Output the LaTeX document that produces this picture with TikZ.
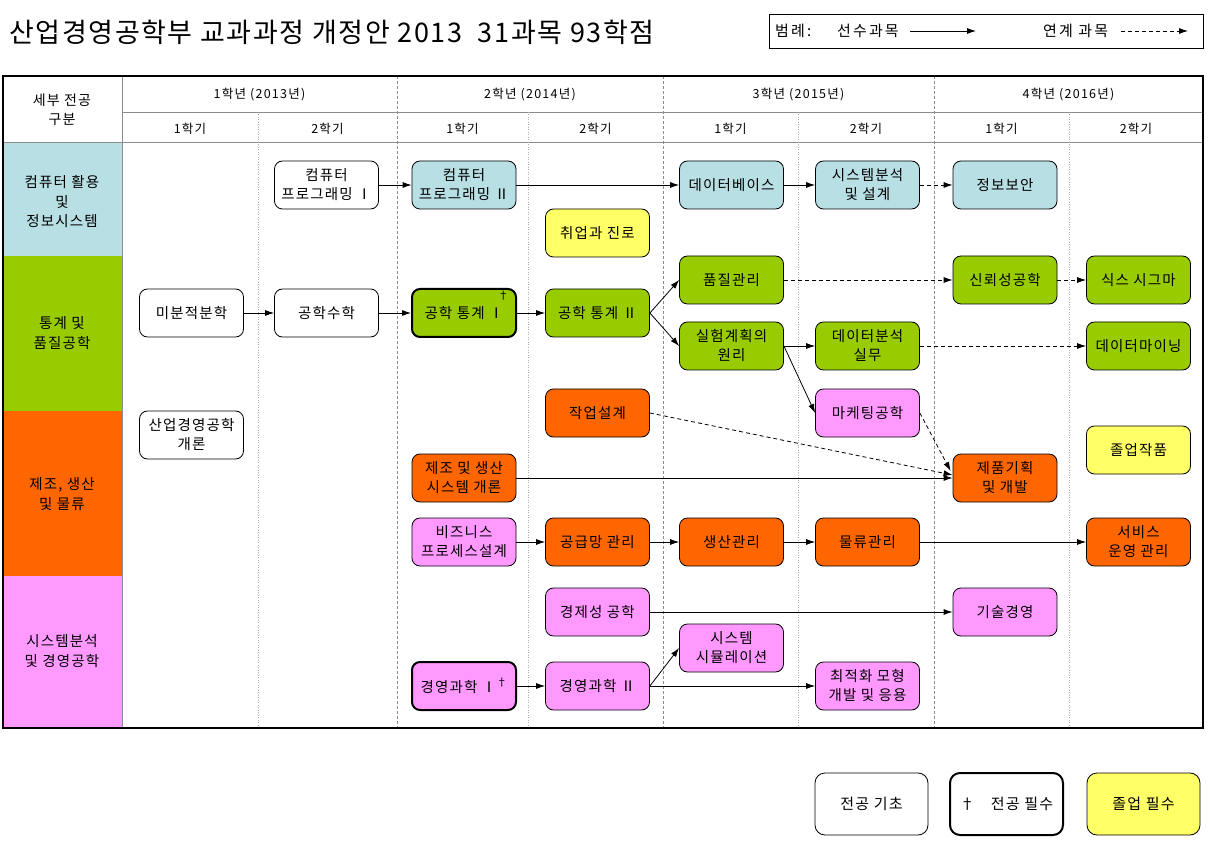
\documentclass[tikz,border=0pt]{standalone}
\usepackage{fontspec}
\setmainfont[LetterSpace=10]{Noto Sans CJK KR}
\newfontfamily\mytitlefam[LetterSpace=6]{Noto Sans CJK KR}
\newfontfamily\mylegfam[LetterSpace=14]{Noto Sans CJK KR}
\newfontfamily\mynodefam[LetterSpace=8]{Noto Sans CJK KR}
\usetikzlibrary{arrows.meta,calc}
\definecolor{ccyan}{RGB}{183,223,228}
\definecolor{cgreen}{RGB}{153,204,0}
\definecolor{corange}{RGB}{255,102,0}
\definecolor{cpink}{RGB}{255,153,255}
\definecolor{cyellow}{RGB}{255,255,102}
\definecolor{gridgray}{RGB}{140,140,140}
\newcommand\mycfont{\mynodefam\fontsize{14.5}{19}\selectfont}
\newcommand\myhfont{\fontsize{12.5}{18}\selectfont}
\newcommand\myrfont{\mynodefam\fontsize{14.5}{19.5}\selectfont}
\tikzset{
  course/.style={draw=black, line width=0.8pt, rounded corners=8pt, minimum width=104pt, minimum height=48pt, inner sep=1pt, align=center, font=\mycfont},
  corecourse/.style={course, line width=2pt},
  arr/.style={-{Latex[length=9pt,width=6pt]}, line width=0.8pt},
  darr/.style={arr, dash pattern=on 4pt off 3pt},
  yearline/.style={gridgray, line width=0.6pt, dash pattern=on 3pt off 2pt},
  semline/.style={gridgray!70, line width=0.6pt, dash pattern=on 1pt off 1.5pt},
  hdr/.style={font=\myhfont, align=center, inner sep=0pt},
  rowlbl/.style={font=\myrfont, align=center, inner sep=0pt},
  toplg/.style={anchor=west, inner sep=0pt, font=\mylegfam\fontsize{15}{17}\selectfont},
  legbox/.style={draw=black, line width=0.8pt, rounded corners=10pt, minimum width=113pt, minimum height=62pt, inner sep=1pt, font=\mynodefam\fontsize{15}{18}\selectfont}
}
\begin{document}
\begin{tikzpicture}[x=1pt,y=-1pt]
\useasboundingbox (0,0) rectangle (1211,842);
\fill[white] (0,0) rectangle (1211,842);
% title
\node[anchor=west, inner sep=0pt, font=\mytitlefam\fontsize{27}{30}\selectfont] (title) at (9,32) {산업경영공학부 교과과정 개정안 2013\ \ 31과목 93학점};
% top legend
\draw[line width=0.8pt] (769,14) rectangle (1203,48);
\node[toplg] (lg1) at (775,31) {범례:};
\node[toplg] (lg2) at (837,31) {선수과목};
\coordinate (la1) at (910,31);
\coordinate (la2) at (976,31);
\draw[arr] (la1) -- (la2);
\node[toplg] (lg3) at (1043,31) {연계 과목};
\coordinate (lb1) at (1121,31);
\coordinate (lb2) at (1188,31);
\draw[darr] (lb1) -- (lb2);
% row colours
\fill[ccyan] (3,142) rectangle (122,256);
\fill[cgreen] (3,256) rectangle (122,411);
\fill[corange] (3,411) rectangle (122,576);
\fill[cpink] (3,576) rectangle (122,728);
% grid
\draw[gridgray, line width=0.6pt] (122,76) -- (122,728);
\draw[gridgray, line width=0.6pt] (122,112) -- (1203,112);
\draw[gridgray, line width=0.6pt] (3,142) -- (1203,142);
\foreach \xx in {397,663,934} {\draw[yearline] (\xx,76) -- (\xx,728);}
\foreach \xx in {258,528,798,1069} {\draw[semline] (\xx,112) -- (\xx,728);}
\draw[line width=2.6pt] (3,76) rectangle (1203,728);
% headers
\node[hdr, font=\mynodefam\fontsize{14}{19}\selectfont] (h0) at (62,110) {세부 전공\\구분};
\node[hdr] (y1) at (259.5,95) {1학년 (2013년)};
\node[hdr] (y2) at (530,95) {2학년 (2014년)};
\node[hdr] (y3) at (798.5,95) {3학년 (2015년)};
\node[hdr] (y4) at (1068.5,95) {4학년 (2016년)};
\foreach \cx/\nm/\tx in {190/s1/1학기,327.5/s2/2학기,462.5/s3/1학기,595.5/s4/2학기,730.5/s5/1학기,866/s6/2학기,1001.5/s7/1학기,1136/s8/2학기}
  {\node[hdr] (\nm) at (\cx,129) {\tx};}
% row labels
\node[rowlbl] (r1) at (62,202) {컴퓨터 활용\\및\\정보시스템};
\node[rowlbl] (r2) at (62,333) {통계 및\\품질공학};
\node[rowlbl] (r3) at (62,494) {제조, 생산\\및 물류};
\node[rowlbl] (r4) at (62,651) {시스템분석\\및 경영공학};
% courses
\node[course, fill=white] (cp1) at (326.5,185) {컴퓨터\\프로그래밍 Ⅰ};
\node[course, fill=ccyan] (cp2) at (464,185) {컴퓨터\\프로그래밍 Ⅱ};
\node[course, fill=ccyan] (db) at (731.5,185) {데이터베이스};
\node[course, fill=ccyan] (sa) at (867.5,185) {시스템분석\\및 설계};
\node[course, fill=ccyan] (sec) at (1005,185) {정보보안};
\node[course, fill=cyellow] (job) at (597.5,233) {취업과 진로};
\node[course, fill=white] (calc) at (191.5,313) {미분적분학};
\node[course, fill=white] (emath) at (326.5,313) {공학수학};
\node[corecourse, fill=cgreen, label={[anchor=north east, inner sep=0pt, font=\fontsize{11}{12}\selectfont, xshift=-8pt, yshift=-3pt]north east:†}] (st1) at (464,313) {공학 통계 Ⅰ};
\node[course, fill=cgreen] (st2) at (597.5,313) {공학 통계 Ⅱ};
\node[course, fill=cgreen] (qc) at (731.5,280) {품질관리};
\node[course, fill=cgreen] (rel) at (1005,280) {신뢰성공학};
\node[course, fill=cgreen] (six) at (1138.5,280) {식스 시그마};
\node[course, fill=cgreen] (doe) at (731.5,346) {실험계획의\\원리};
\node[course, fill=cgreen] (da) at (867.5,346) {데이터분석\\실무};
\node[course, fill=cgreen] (dm) at (1138.5,346) {데이터마이닝};
\node[course, fill=corange] (wd) at (597.5,413) {작업설계};
\node[course, fill=cpink] (mkt) at (867.5,413) {마케팅공학};
\node[course, fill=white] (intro) at (191.5,435) {산업경영공학\\개론};
\node[course, fill=cyellow] (capst) at (1138.5,450) {졸업작품};
\node[course, fill=corange] (mfg) at (464,478) {제조 및 생산\\시스템 개론};
\node[course, fill=corange] (pd) at (1005,478) {제품기획\\및 개발};
\node[course, fill=cpink] (bp) at (464,542) {비즈니스\\프로세스설계};
\node[course, fill=corange] (scm) at (597.5,542) {공급망 관리};
\node[course, fill=corange] (pm) at (731.5,542) {생산관리};
\node[course, fill=corange] (lg) at (867.5,542) {물류관리};
\node[course, fill=corange] (svc) at (1138.5,542) {서비스\\운영 관리};
\node[course, fill=cpink] (eco) at (597.5,612) {경제성 공학};
\node[course, fill=cpink] (tm) at (1005,612) {기술경영};
\node[course, fill=cpink] (sim) at (731.5,648) {시스템\\시뮬레이션};
\node[corecourse, fill=cpink] (ms1) at (464,686) {경영과학 Ⅰ\raisebox{6pt}{\fontsize{11}{12}\selectfont †}};
\node[course, fill=cpink] (ms2) at (597.5,686) {경영과학 Ⅱ};
\node[course, fill=cpink] (opt) at (867.5,686) {최적화 모형\\개발 및 응용};
% connectors
\draw[arr] (cp1) -- (cp2);
\draw[arr] (cp2) -- (db);
\draw[arr] (db) -- (sa);
\draw[darr] (sa) -- (sec);
\draw[arr] (calc) -- (emath);
\draw[arr] (emath) -- (st1);
\draw[arr] (st1) -- (st2);
\draw[arr] (st2.east) -- (qc.west);
\draw[arr] (st2.east) -- (doe.west);
\draw[darr] (qc) -- (rel);
\draw[darr] (rel) -- (six);
\draw[arr] (doe) -- (da);
\draw[arr] (doe.east) -- (mkt.west);
\draw[darr] (da) -- (dm);
\draw[darr] (wd.east) -- ([yshift=3pt]pd.west);
\draw[darr] (mkt.east) -- ([xshift=-2pt,yshift=7pt]pd.west);
\draw[arr] (mfg) -- (pd);
\draw[arr] (bp) -- (scm);
\draw[arr] (scm) -- (pm);
\draw[arr] (pm) -- (lg);
\draw[arr] (lg) -- (svc);
\draw[arr] (eco) -- (tm);
\draw[arr] (ms1) -- (ms2);
\draw[arr] (ms2.east) -- (sim.west);
\draw[arr] (ms2) -- (opt);
% bottom legend
\node[legbox, fill=white] (lgA) at (871.5,804) {전공 기초};
\node[legbox, fill=white, line width=2pt] (lgB) at (1006.5,804) {†\hspace{16pt}전공 필수};
\node[legbox, fill=cyellow] (lgC) at (1143.5,804) {졸업 필수};
\end{tikzpicture}
\end{document}
